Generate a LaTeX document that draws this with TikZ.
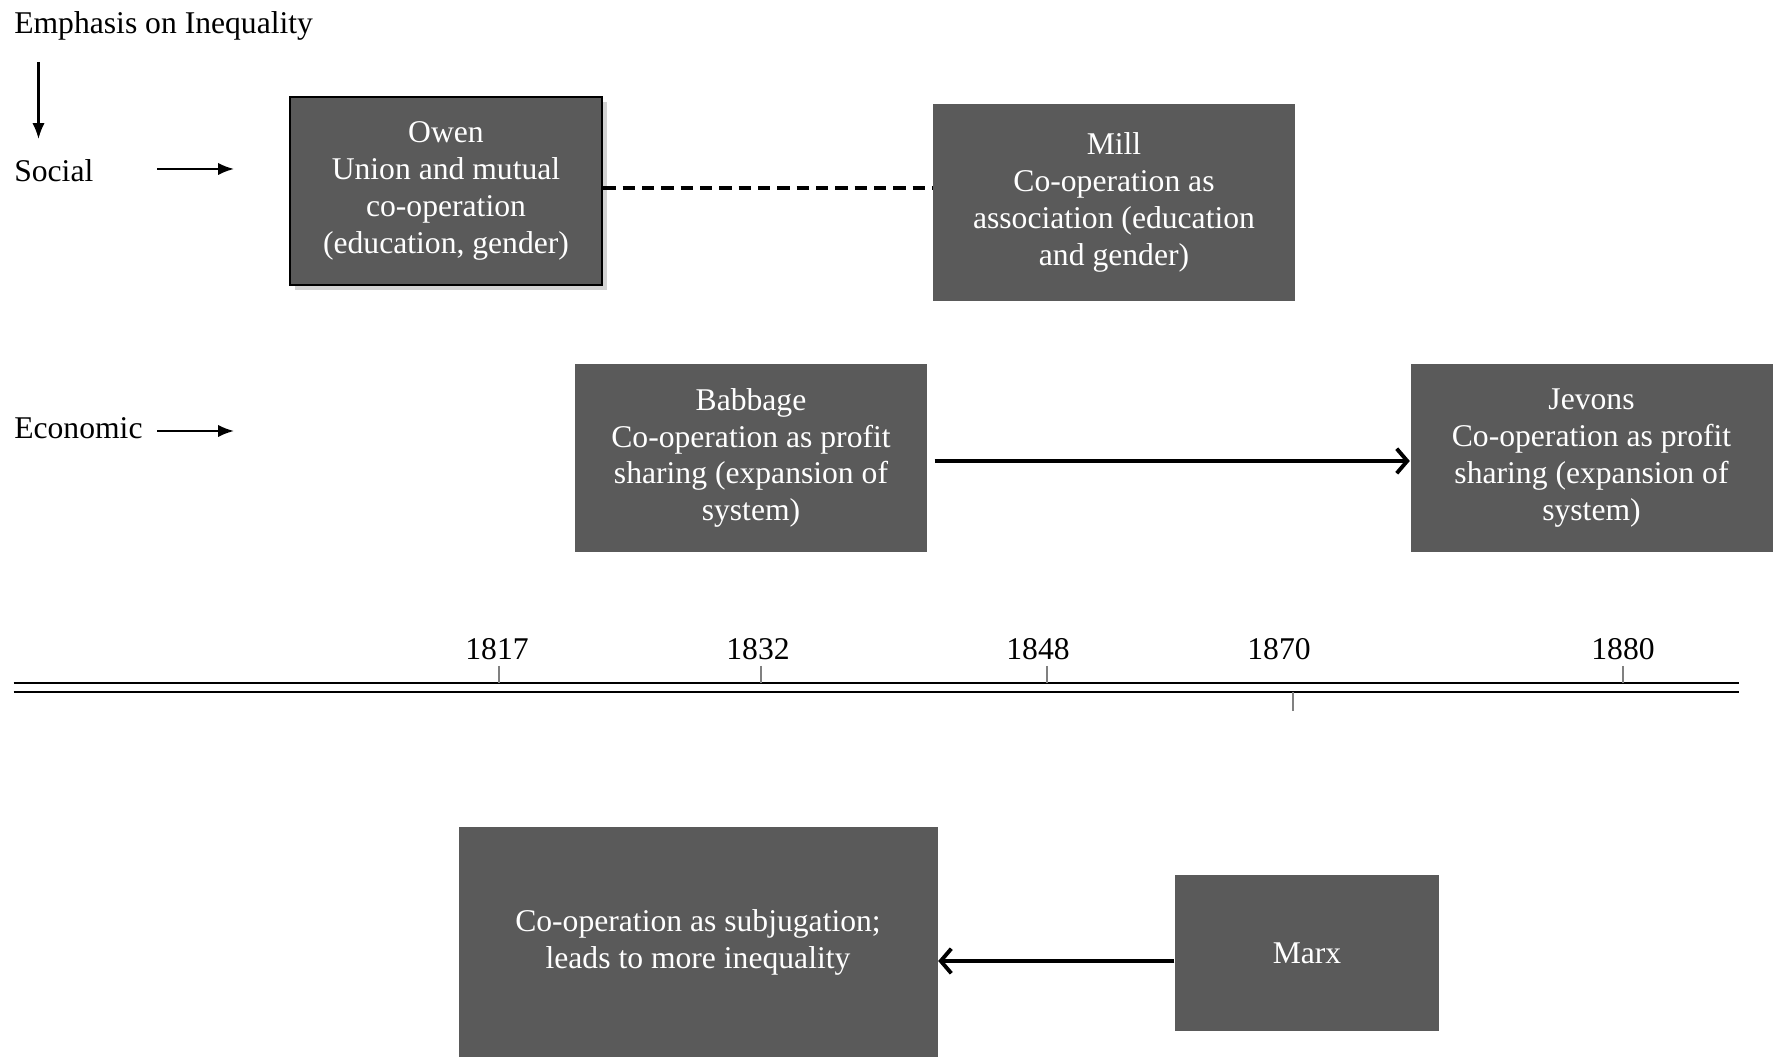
\documentclass[tikz,border=0pt]{standalone}
\usepackage{fontspec}
\setmainfont{Liberation Serif}
\usetikzlibrary{positioning}
\usetikzlibrary{arrows.meta}
\usetikzlibrary{shadows}
\definecolor{slate}{RGB}{90,90,90}
\tikzset{
    thinker/.style = {rectangle, fill=slate, text=white, align=center, inner sep=0pt, font=\fontsize{9}{10.5}\selectfont},
    thinkerb/.style = {thinker, draw=black, thick, drop shadow={opacity=0.35, shadow xshift=1.5pt, shadow yshift=-1.5pt}},
    heading/.style = {anchor=west, inner sep=0pt, font=\fontsize{9}{10.5}\selectfont},
    year/.style = {inner sep=0pt, font=\fontsize{9}{10.5}\selectfont},
    edges/.style = {-{Latex[length=4.5pt,width=3.5pt]}, semithick},
    edgen/.style = {-{Straight Barb[length=3pt,width=7pt]}, line width=1.1pt},
    edged/.style = {line width=1.2pt, dash pattern=on 3.5pt off 2pt},
    rail/.style = {line width=0.6pt},
    yeartick/.style = {gray, line width=0.4pt},
}

\begin{document}
\begin{tikzpicture}
\useasboundingbox (0,0) rectangle (17.75,10.57);
% row headings
\node[heading] at (0.136,10.31) (emph) {Emphasis on Inequality};
\node[heading] at (0.136,8.86) (social) {Social};
\node[heading] at (0.136,6.29) (econ) {Economic};
\coordinate (d1) at (0.385,9.95);
\coordinate (d2) at (0.385,9.18);
\coordinate (s1) at (1.57,8.88);
\coordinate (s2) at (2.34,8.88);
\coordinate (e1) at (1.57,6.26);
\coordinate (e2) at (2.34,6.26);
\draw[edges] (d1) -- (d2);
\draw[edges] (s1) -- (s2);
\draw[edges] (e1) -- (e2);
%
\node[thinkerb, minimum width=3.12cm, minimum height=1.88cm] at (4.46,8.66) (owen) {Owen\\Union and mutual\\co-operation\\(education, gender)};
\node[thinker, minimum width=3.62cm, minimum height=1.97cm] at (11.14,8.545) (mill) {Mill\\Co-operation as\\association (education\\and gender)};
\node[thinker, minimum width=3.52cm, minimum height=1.88cm] at (7.51,5.99) (babbage) {Babbage\\Co-operation as profit\\sharing (expansion of\\system)};
\node[thinker, minimum width=3.62cm, minimum height=1.88cm] at (15.915,5.99) (jevons) {Jevons\\Co-operation as profit\\sharing (expansion of\\system)};
\node[thinker, minimum width=4.79cm, minimum height=2.30cm] at (6.98,1.15) (subj) {Co-operation as subjugation;\\leads to more inequality};
\node[thinker, minimum width=2.64cm, minimum height=1.56cm] at (13.07,1.04) (marx) {Marx};
%
\draw[edged] (owen.east |- 0,8.69) -- (mill.west |- 0,8.69);
\draw[edgen] ([xshift=2pt]babbage.east |- 0,5.96) -- (jevons.west |- 0,5.96);
\draw[edgen] (marx.west |- 0,0.96) -- (subj.east |- 0,0.96);
% timeline
\coordinate (ta) at (0.136,3.74);
\coordinate (tb) at (17.39,3.74);
\coordinate (tc) at (0.136,3.65);
\coordinate (td) at (17.39,3.65);
\draw[rail] (ta) -- (tb);
\draw[rail] (tc) -- (td);
\node[year] at (4.97,4.08) (y1817) {1817};
\node[year] at (7.58,4.08) (y1832) {1832};
\node[year] at (10.38,4.08) (y1848) {1848};
\node[year] at (12.79,4.08) (y1870) {1870};
\node[year] at (16.23,4.08) (y1880) {1880};
\draw[yeartick] (4.99,3.91) -- (4.99,3.74);
\draw[yeartick] (7.61,3.91) -- (7.61,3.74);
\draw[yeartick] (10.47,3.91) -- (10.47,3.74);
\draw[yeartick] (12.93,3.65) -- (12.93,3.46);
\draw[yeartick] (16.23,3.91) -- (16.23,3.74);
\end{tikzpicture}
\end{document}
